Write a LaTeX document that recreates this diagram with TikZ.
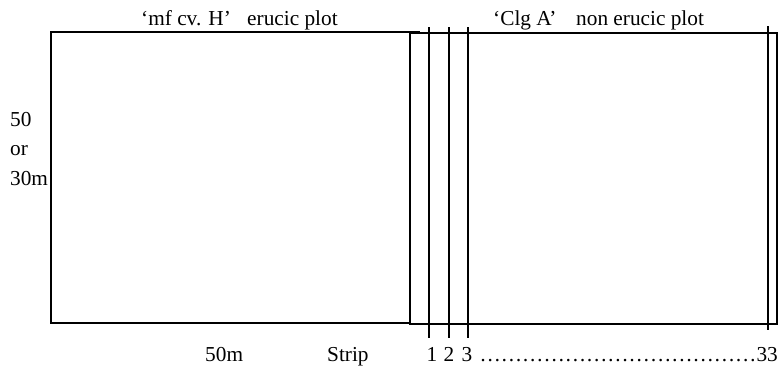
\documentclass[tikz,border=0pt]{standalone}
\usepackage{fontspec}
\setmainfont{Liberation Serif}
\begin{document}
\begin{tikzpicture}[x=1pt,y=-1pt,
  lbl/.style={inner sep=0pt,anchor=base west,font=\fontsize{21.3}{24}\selectfont},
  num/.style={inner sep=0pt,anchor=base,font=\fontsize{21.3}{24}\selectfont},
  ln/.style={line width=1.3pt,black}]
\useasboundingbox (0,0) rectangle (780,367);
% plots
\draw[ln] (420,32) -- (51,32) -- (51,323) -- (410,323);
\draw[ln] (410,33) rectangle (777,324);
% strips
\foreach \x in {429,449,468}{
  \draw[ln] (\x,27) -- (\x,338);
}
\draw[ln] (768,26) -- (768,330);
% labels
\node[lbl] (t1) at (141,25) {‘mf cv. H’};
\node[lbl] (t2) at (247,25) {erucic plot};
\node[lbl] (t3) at (493,25) {‘Clg A’};
\node[lbl] (t4) at (576,25) {non erucic plot};
\node[lbl] (l1) at (10,126) {50};
\node[lbl] (l2) at (10,155) {or};
\node[lbl] (l3) at (10,185) {30m};
\node[lbl] (b1) at (205,361) {50m};
\node[lbl] (b2) at (327,361) {Strip};
\node[num] (n1) at (432,361) {1};
\node[num] (n2) at (449,361) {2};
\node[num] (n3) at (467,361) {3};
\node[inner sep=0pt,anchor=base east,font=\fontsize{21.3}{24}\selectfont] (n33) at (778,361) {…………………………………33};
\end{tikzpicture}
\end{document}
